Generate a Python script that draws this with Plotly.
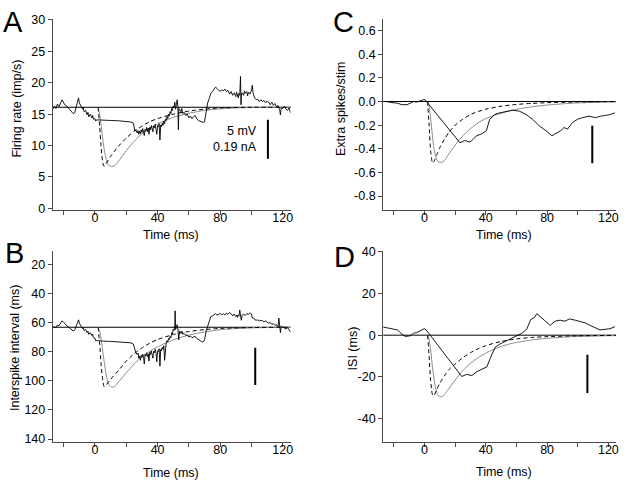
import plotly.graph_objects as go

# ---------------- data ----------------
# Panel A: firing rate (imp/s)
A_BASE = 16.1
A_TRACE = [(-27, 15.8), (-26, 16.3), (-25, 15.9), (-24, 16.6), (-23, 16.2), (-22, 16.9), (-21, 17.3),
           (-20, 16.8), (-19, 16.4), (-18, 16.3), (-17, 16.0), (-16, 15.6), (-15, 15.3), (-14, 15.1),
           (-13, 15.2), (-12, 16.2), (-11, 17.4), (-10.5, 17.6), (-10, 16.8), (-9, 16.3), (-8, 15.8),
           (-7.5, 16.1), (-7, 15.4), (-6, 15.6), (-5, 14.9), (-4.5, 15.3), (-4, 14.6), (-3, 15.0),
           (-2, 14.4), (-1.5, 14.8), (-1, 14.2), (0, 14.3), (0.5, 13.9), (1, 14.1), (2, 14.1),
           (5, 14.05), (10, 14.0), (15, 13.95), (20, 13.85), (23, 13.75), (24.5, 13.6), (25, 12.8),
           (25.5, 12.3), (26, 12.5), (27, 12.0), (27.5, 12.4), (28, 11.8), (28.5, 12.3), (29, 11.9),
           (29.5, 12.5), (30, 12.1), (30.5, 12.7), (31, 12.2), (31.5, 11.6), (32, 12.6), (32.5, 12.3),
           (33, 12.9), (33.5, 12.2), (34, 12.8), (34.5, 11.8), (35, 12.9), (35.5, 12.5), (36, 13.2),
           (36.5, 12.6), (37, 12.2), (37.5, 13.1), (38, 12.8), (38.5, 13.4), (39, 12.7), (39.5, 11.8),
           (40, 13.2), (40.5, 13.0), (41, 13.5), (41.5, 10.9), (42, 13.3), (42.5, 13.0), (43, 13.6),
           (43.5, 13.2), (44, 13.9), (44.5, 13.5), (45, 14.2), (45.5, 14.0), (46, 14.6), (46.5, 14.3),
           (47, 15.0), (47.5, 14.7), (48, 15.4), (48.5, 15.1), (49, 15.9), (49.5, 15.6), (50, 16.3),
           (50.5, 16.0), (51, 16.9), (51.5, 15.8), (52, 16.5), (52.5, 17.3), (53, 16.2), (53.3, 12.5),
           (53.6, 15.9), (54, 15.8), (55, 15.4), (55.5, 15.9), (56, 15.1), (57, 15.3), (58, 14.8),
           (59, 15.0), (60, 14.4), (61, 14.7), (62, 14.3), (63, 14.6), (64, 14.8), (65, 14.3),
           (66, 14.0), (67, 13.9), (68, 13.8), (69, 13.7), (70, 13.8), (71, 15.5), (72, 16.8),
           (73, 17.5), (74, 18.3), (75, 18.6), (76, 19.0), (77, 19.3), (78, 19.1), (79, 18.8),
           (80, 18.6), (81, 18.9), (82, 18.7), (83, 19.0), (84, 18.6), (85, 18.8), (86, 18.2),
           (87, 18.6), (88, 18.0), (89, 18.4), (90, 17.8), (90.5, 18.5), (91, 18.1), (91.5, 17.6),
           (92, 18.3), (92.5, 18.0), (93, 21.0), (93.3, 16.5), (93.6, 18.2), (94, 18.4), (95, 18.0),
           (95.5, 18.7), (96, 18.3), (97, 18.6), (97.5, 17.9), (98, 18.5), (99, 18.2), (100, 18.8),
           (100.5, 19.6), (101, 18.4), (102, 17.6), (103, 17.3), (104, 17.4), (105, 17.0), (106, 17.3),
           (107, 17.0), (108, 17.2), (109, 16.8), (110, 17.1), (111, 16.9), (112, 16.5), (113, 16.9),
           (114, 16.4), (115, 16.7), (116, 16.2), (117, 16.4), (118, 15.7), (118.5, 14.9), (119, 16.0),
           (120, 15.9), (121, 16.2), (122, 15.8), (123, 15.6), (124, 16.0), (125, 15.2)]
A_DASHED = [(2, 16.1), (3, 13.0), (4, 9.5), (5, 7.2), (5.8, 6.7), (7, 7.1), (10, 8.3),
            (15, 9.9), (20, 11.2), (25, 12.3), (30, 13.1), (35, 13.8), (40, 14.3), (50, 15.0),
            (60, 15.5), (70, 15.8), (80, 16.0), (100, 16.1), (125, 16.1)]
A_GRAY = [(2, 16.1), (3, 15.0), (4, 13.0), (5, 11.0), (6, 9.2), (7, 8.0), (8, 7.2), (9, 6.8),
          (11, 6.65), (13, 6.9), (15, 7.5), (20, 9.2), (25, 10.7), (30, 11.9), (35, 12.8), (40, 13.5),
          (45, 14.0), (50, 14.5), (55, 14.85), (60, 15.15), (70, 15.6), (80, 15.85), (90, 16.0),
          (100, 16.05), (125, 16.1)]

# Panel B: interspike interval (ms)
B_BASE = 63.3
B_TRACE = [(-27, 63.5), (-26, 62.8), (-25, 63.6), (-24, 61.8), (-23, 62.3), (-22, 60.5), (-21, 58.9),
           (-20, 60.0), (-19, 61.5), (-18, 62.4), (-17, 62.9), (-16, 64.1), (-15, 65.0), (-14, 65.8),
           (-13, 65.3), (-12, 62.0), (-11, 58.5), (-10.5, 58.2), (-10, 60.5), (-9, 62.5), (-8, 64.2),
           (-7.5, 63.4), (-7, 65.5), (-6, 65.0), (-5, 67.0), (-4.5, 66.0), (-4, 68.2), (-3, 67.0),
           (-2, 69.0), (-1.5, 68.0), (-1, 70.3), (0, 70.8), (0.5, 72.6), (1, 72.4), (2, 72.6),
           (5, 72.8), (10, 73.0), (15, 73.3), (20, 73.7), (23, 74.0), (24.5, 74.8), (25, 76.5),
           (25.5, 79.5), (26, 80.5), (27, 82.0), (27.5, 81.0), (28, 84.5), (28.5, 83.0), (29, 86.0),
           (29.5, 82.5), (30, 84.0), (30.5, 81.8), (31, 83.5), (31.5, 88.5), (32, 82.0), (32.5, 83.0),
           (33, 80.8), (33.5, 83.5), (34, 81.5), (34.5, 86.5), (35, 80.5), (35.5, 82.0), (36, 79.5),
           (36.5, 81.5), (37, 84.5), (37.5, 79.8), (38, 80.8), (38.5, 78.5), (39, 81.0), (39.5, 87.0),
           (40, 79.5), (40.5, 80.0), (41, 78.0), (41.5, 90.0), (42, 78.5), (42.5, 79.5), (43, 77.0),
           (43.5, 78.5), (44, 76.0), (44.5, 86.0), (45, 75.0), (45.5, 74.0), (46, 72.5), (46.5, 73.5),
           (47, 71.0), (47.5, 71.8), (48, 69.5), (48.5, 70.5), (49, 67.0), (49.5, 68.0), (50, 64.5),
           (50.5, 65.5), (51, 62.0), (51.2, 52.0), (51.5, 65.0), (52, 63.0), (52.5, 61.5), (53, 64.5),
           (53.5, 72.0), (54, 66.0), (55, 67.0), (55.5, 66.0), (56, 68.0), (57, 67.5), (58, 69.0),
           (59, 68.5), (60, 70.0), (61, 69.3), (62, 70.5), (63, 70.0), (64, 69.5), (65, 71.0),
           (66, 71.8), (67, 72.5), (68, 73.0), (69, 73.5), (70, 72.0), (71, 66.0), (72, 62.5),
           (73, 58.5), (74, 56.0), (75, 55.5), (76, 55.0), (77, 54.0), (78, 55.0), (79, 54.3),
           (80, 53.8), (81, 54.8), (82, 54.0), (83, 54.9), (84, 53.5), (85, 54.5), (86, 53.2),
           (87, 54.0), (88, 55.5), (89, 54.2), (90, 56.0), (90.5, 55.0), (91, 56.5), (91.5, 54.8),
           (92, 55.7), (92.5, 51.5), (93, 56.2), (93.5, 58.5), (94, 55.0), (95, 54.4), (96, 55.2),
           (97, 54.0), (98, 54.6), (99, 53.5), (100, 54.2), (100.5, 57.0), (101, 56.5), (102, 58.0),
           (103, 58.5), (104, 58.2), (105, 59.0), (106, 58.5), (107, 58.9), (108, 59.5), (109, 59.0),
           (110, 59.8), (111, 60.5), (112, 60.0), (113, 61.3), (114, 60.8), (115, 62.0), (116, 61.5),
           (117, 63.0), (117.5, 57.0), (118, 63.5), (118.5, 67.0), (119, 62.5), (120, 63.0),
           (121, 63.8), (122, 64.5), (123, 63.5), (124, 65.0), (125, 66.5)]
B_DASHED = [(2, 63.3), (3, 75.0), (4, 90.0), (5, 100.0), (5.8, 104.0), (7, 103.0), (10, 99.0),
            (15, 93.0), (20, 86.5), (25, 81.5), (30, 77.5), (35, 74.2), (40, 71.7), (50, 68.3),
            (60, 66.2), (70, 64.9), (80, 64.1), (100, 63.5), (125, 63.3)]
B_GRAY = [(2, 63.3), (3, 66.0), (4, 72.0), (5, 80.0), (6, 88.0), (7, 95.0), (8, 100.0), (9, 103.0),
          (11, 104.5), (13, 103.5), (15, 101.0), (20, 94.5), (25, 88.5), (30, 83.5), (35, 79.8),
          (40, 76.8), (45, 74.2), (50, 72.0), (55, 70.2), (60, 68.7), (70, 66.5), (80, 65.0),
          (90, 64.2), (100, 63.7), (125, 63.3)]

# Panel C: extra spikes / stim
C_BASE = 0.0
C_TRACE = [(-27, 0.0), (-24.8, 0.0), (-22.2, -0.008), (-17.9, -0.014), (-14.7, -0.027), (-11.4, -0.027),
           (-9.3, -0.014), (-7.1, 0.0), (-5, -0.005), (-2.8, 0.008), (-0.6, 0.016), (0.4, 0.014),
           (23.1, -0.349), (26.3, -0.33), (29.6, -0.343), (31.7, -0.32), (33.9, -0.29), (37.1, -0.275),
           (40.4, -0.247), (42.5, -0.151), (45.8, -0.11), (49, -0.096), (53.3, -0.082), (57.7, -0.074),
           (62, -0.082), (66.3, -0.11), (70.6, -0.151), (74.9, -0.206), (79.3, -0.247), (83.2, -0.29),
           (85.7, -0.27), (89, -0.247), (91.1, -0.22), (93.3, -0.234), (96.5, -0.179), (99.8, -0.151),
           (103, -0.137), (107.3, -0.124), (111.7, -0.137), (114.9, -0.124), (118.1, -0.118),
           (121.4, -0.11), (124.2, -0.096)]
C_DASHED = [(2, 0.0), (3, -0.2), (4, -0.42), (5, -0.51), (5.6, -0.52), (6.5, -0.5), (8, -0.45),
            (10, -0.39), (13, -0.32), (16, -0.26), (20, -0.2), (25, -0.15), (30, -0.11), (35, -0.085),
            (40, -0.065), (50, -0.04), (60, -0.025), (70, -0.016), (80, -0.01), (100, -0.004), (125, 0.0)]
C_GRAY = [(2, 0.0), (3, -0.04), (4, -0.14), (5, -0.27), (6, -0.38), (7, -0.45), (8, -0.49), (9, -0.51),
          (11, -0.515), (13, -0.5), (15, -0.46), (20, -0.37), (25, -0.29), (30, -0.23), (35, -0.18),
          (40, -0.145), (45, -0.12), (50, -0.1), (55, -0.08), (60, -0.066), (70, -0.045), (80, -0.03),
          (90, -0.02), (100, -0.012), (125, -0.004)]

# Panel D: ISI (ms)
D_BASE = 0.0
D_TRACE = [(-27, 3.9), (-25, 3.6), (-21.3, 2.8), (-17.6, 2.5), (-14.8, 0.5), (-12.6, -0.6), (-9.3, -0.3),
           (-7.2, 0.9), (-5, 1.25), (-2.8, 2.0), (-0.2, 3.1), (1.1, 2.5), (24.3, -19.8), (27.6, -18.8),
           (30.9, -19.4), (34.1, -17.5), (37.4, -16.3), (40.7, -15.2), (42.8, -11.25), (46.1, -5.8),
           (49.3, -4.2), (53.7, -2.7), (57, -1.6), (60.2, -0.6), (63.5, 0.9), (66.7, 2.8), (69.3, 7.5),
           (71.5, 8.3), (73.3, 10.3), (75.4, 9.0), (78.7, 6.7), (82, 4.7), (85.2, 6.7), (88.5, 7.2),
           (91.7, 6.7), (94.6, 7.8), (98.3, 7.2), (101.5, 6.7), (104.8, 5.9), (108, 4.7), (111.3, 3.6),
           (114.6, 2.5), (117.8, 2.8), (121.1, 3.1), (124.3, 4.1)]
D_DASHED = [(2, 0.0), (3, -10.0), (4, -22.0), (5, -28.0), (5.6, -29.2), (6.5, -28.5), (8, -26.0),
            (10, -23.0), (13, -19.5), (16, -16.5), (20, -13.8), (25, -10.8), (30, -8.4), (35, -6.5),
            (40, -5.0), (50, -3.0), (60, -1.8), (70, -1.1), (80, -0.7), (100, -0.3), (125, -0.1)]
D_GRAY = [(2, 0.0), (3, -2.0), (4, -7.0), (5, -14.0), (6, -20.0), (7, -24.5), (8, -27.5), (9, -29.0),
          (11, -29.5), (13, -28.5), (15, -26.5), (20, -21.5), (25, -17.0), (30, -13.5), (35, -10.8),
          (40, -8.6), (45, -6.8), (50, -5.4), (55, -4.3), (60, -3.5), (70, -2.3), (80, -1.5),
          (90, -1.0), (100, -0.6), (125, -0.2)]

X_TICKS = [0, 40, 80, 120]
X_MINOR = [-20, 20, 60, 100]
A_YTICKS = [0, 5, 10, 15, 20, 25, 30]
B_YTICKS = [20, 40, 60, 80, 100, 120, 140]
C_YTICKS = [0.6, 0.4, 0.2, 0.0, -0.2, -0.4, -0.6, -0.8]
C_YTEXT = ["0.6", "0.4", "0.2", "0.0", "-0.2", "-0.4", "-0.6", "-0.8"]
D_YTICKS = [40, 20, 0, -20, -40]
D_YTEXT = ["40", "20", "0", "-20", "-40"]

# scale bars: (x, y0, y1)
A_BAR = (110.5, 7.9, 14.1)
B_BAR = (102.4, 77.3, 103.0)
C_BAR = (109.5, -0.206, -0.522)
D_BAR = (106.3, -9.4, -27.7)

# ---------------- figure ----------------
W, H = 624, 488
FONT = "Liberation Sans, Arial, Helvetica, sans-serif"
AXC = "#4a4a4a"

fig = go.Figure()

panels = [
    dict(key="", A=A_TRACE, D=A_DASHED, G=A_GRAY, base=A_BASE, bar=A_BAR),
    dict(key="2", A=B_TRACE, D=B_DASHED, G=B_GRAY, base=B_BASE, bar=B_BAR),
    dict(key="3", A=C_TRACE, D=C_DASHED, G=C_GRAY, base=C_BASE, bar=C_BAR),
    dict(key="4", A=D_TRACE, D=D_DASHED, G=D_GRAY, base=D_BASE, bar=D_BAR),
]

for p in panels:
    xa, ya = "x" + p["key"], "y" + p["key"]
    fig.add_trace(go.Scatter(x=[-27, 125], y=[p["base"], p["base"]], mode="lines",
                             line=dict(color="black", width=1), xaxis=xa, yaxis=ya, hoverinfo="skip"))
    fig.add_trace(go.Scatter(x=[t for t, _ in p["G"]], y=[v for _, v in p["G"]], mode="lines",
                             line=dict(color="#8a8a8a", width=1, shape="spline", smoothing=0.6),
                             xaxis=xa, yaxis=ya))
    fig.add_trace(go.Scatter(x=[t for t, _ in p["D"]], y=[v for _, v in p["D"]], mode="lines",
                             line=dict(color="black", width=1, dash="4px,3px", shape="spline", smoothing=0.6),
                             xaxis=xa, yaxis=ya))
    fig.add_trace(go.Scatter(x=[t for t, _ in p["A"]], y=[v for _, v in p["A"]], mode="lines",
                             line=dict(color="black", width=0.9), xaxis=xa, yaxis=ya))
    bx, b0, b1 = p["bar"]
    fig.add_shape(type="line", xref=xa, yref=ya, x0=bx, x1=bx, y0=b0, y1=b1,
                  line=dict(color="black", width=2))


def px2paper_x(px):
    return px / W


def px2paper_y(py):
    return 1 - py / H


common_x = dict(range=[-27, 125], tickvals=X_TICKS, ticks="outside", ticklen=4, tickwidth=1,
                tickcolor=AXC, showline=True, linecolor=AXC, linewidth=1, showgrid=False,
                zeroline=False, tickfont=dict(family=FONT, size=12.5, color="black"),
                ticklabelstandoff=-8,
                minor=dict(tickvals=X_MINOR, ticks="outside", ticklen=4, tickcolor=AXC))
common_y = dict(ticks="outside", ticklen=4, tickwidth=1, tickcolor=AXC, showline=True,
                linecolor=AXC, linewidth=1, showgrid=False, zeroline=False,
                tickfont=dict(family=FONT, size=12.5, color="black"))

top_dom = [px2paper_y(209), px2paper_y(13)]
bot_dom = [px2paper_y(446), px2paper_y(251)]
left_dom = [px2paper_x(53), px2paper_x(292)]
right_dom = [px2paper_x(385), px2paper_x(619)]

fig.update_layout(
    width=W, height=H, margin=dict(l=0, r=0, t=0, b=0),
    paper_bgcolor="white", plot_bgcolor="white", showlegend=False,
    font=dict(family=FONT, size=12, color="black"),
    xaxis=dict(domain=left_dom, anchor="y", **common_x),
    yaxis=dict(domain=top_dom, anchor="x", range=[-0.3, 30.2], tickvals=A_YTICKS, **common_y),
    xaxis2=dict(domain=left_dom, anchor="y2", **common_x),
    yaxis2=dict(domain=bot_dom, anchor="x2", range=[142, 11.2], tickvals=B_YTICKS, **common_y),
    xaxis3=dict(domain=right_dom, anchor="y3", **common_x),
    yaxis3=dict(domain=top_dom, anchor="x3", range=[-0.92, 0.7], tickvals=C_YTICKS,
                ticktext=C_YTEXT, **common_y),
    xaxis4=dict(domain=right_dom, anchor="y4", **common_x),
    yaxis4=dict(domain=bot_dom, anchor="x4", range=[-51.2, 40.2], tickvals=D_YTICKS,
                ticktext=D_YTEXT, **common_y),
)

ann = []
# panel letters
for txt, x, y in [("A", 13, 16), ("B", 15, 253), ("C", 345, 16), ("D", 346, 257)]:
    ann.append(dict(text=txt, x=px2paper_x(x), y=px2paper_y(y), xref="paper", yref="paper",
                    showarrow=False, xanchor="center", yanchor="middle",
                    font=dict(family=FONT, size=29, color="black")))
# x titles
for x, y in [(172, 234), (172, 478), (506, 234), (506, 477)]:
    ann.append(dict(text="Time (ms)", x=px2paper_x(x), y=px2paper_y(y), xref="paper", yref="paper",
                    showarrow=False, xanchor="center", yanchor="middle",
                    font=dict(family=FONT, size=12.5, color="black")))
# y titles
for txt, x, y in [("Firing rate (imp/s)", 17, 105), ("Interspike interval (ms)", 15, 350),
                  ("Extra spikes/stim", 342, 105), ("ISI (ms)", 355, 350)]:
    ann.append(dict(text=txt, x=px2paper_x(x), y=px2paper_y(y), xref="paper", yref="paper",
                    showarrow=False, xanchor="center", yanchor="middle", textangle=-90,
                    font=dict(family=FONT, size=12.5, color="black")))
# scale bar labels (panel A)
ann.append(dict(text="5 mV", x=104.8, y=12.4, xref="x", yref="y", showarrow=False,
                xanchor="right", yanchor="middle", font=dict(family=FONT, size=12.5, color="black")))
ann.append(dict(text="0.19 nA", x=104.8, y=9.7, xref="x", yref="y", showarrow=False,
                xanchor="right", yanchor="middle", font=dict(family=FONT, size=12.5, color="black")))
fig.update_layout(annotations=ann)

fig.write_html("out.html", config={"displayModeBar": False},
               post_script="document.body.style.margin='0';document.body.style.overflow='hidden';")
